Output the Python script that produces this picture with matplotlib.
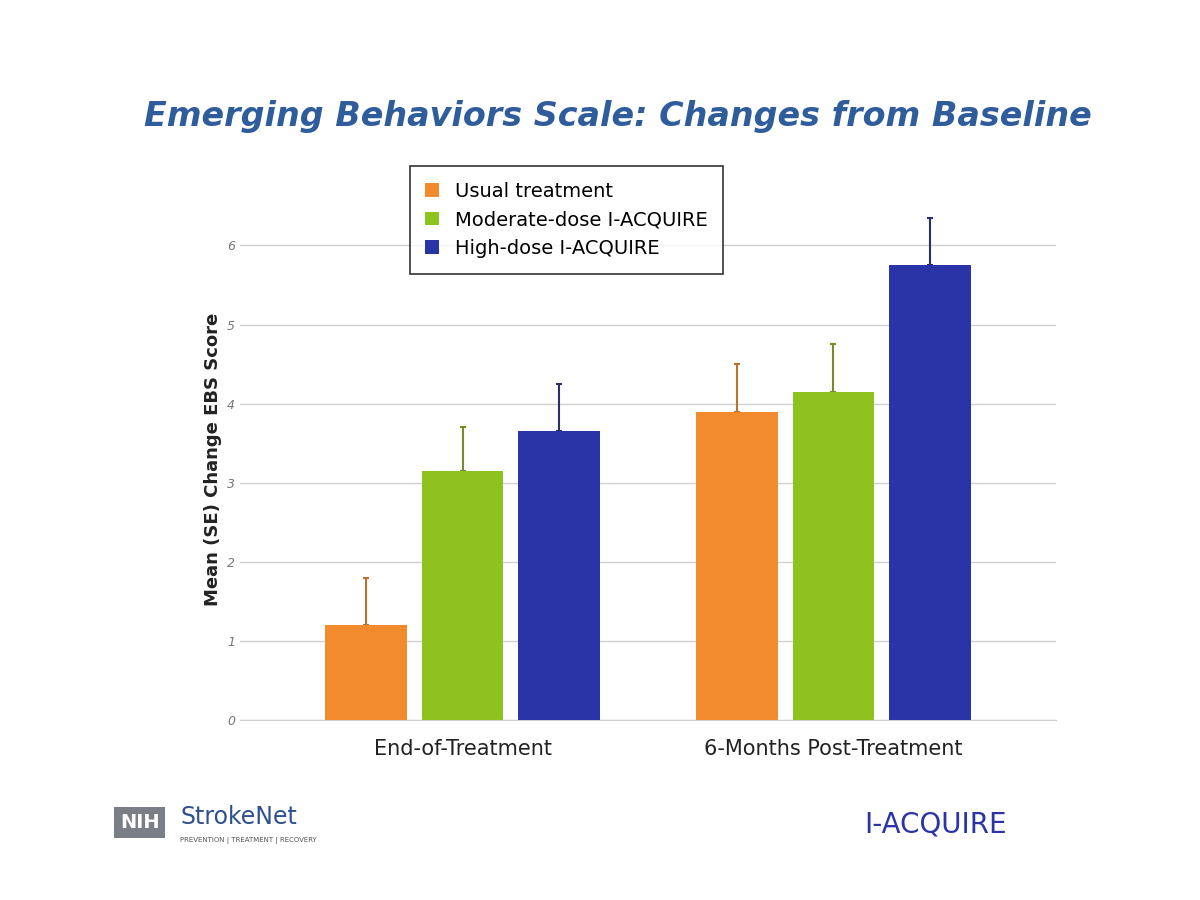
import matplotlib.pyplot as plt
import numpy as np

# Data
groups = ['End-of-Treatment', '6-Months Post-Treatment']
series = ['Usual treatment', 'Moderate-dose I-ACQUIRE', 'High-dose I-ACQUIRE']
usual = [1.2, 3.9]
moderate = [3.15, 4.15]
high = [3.65, 5.75]
usual_se = [0.6, 0.6]
moderate_se = [0.55, 0.6]
high_se = [0.6, 0.6]
colors = ['#F28A2E', '#8DC21F', '#2A34A6']
err_colors = ['#B8742E', '#7A8A2A', '#2A2F6A']

fig = plt.figure(figsize=(12, 9), dpi=100)
fig.patch.set_facecolor('white')
ax = fig.add_axes([0.2, 0.2, 0.68, 0.58])

x = np.arange(len(groups))
width = 0.22
values = [usual, moderate, high]
errors = [usual_se, moderate_se, high_se]
for i, (vals, errs) in enumerate(zip(values, errors)):
    pos = x + (i - 1) * (width + 0.04)
    ax.bar(pos, vals, width, color=colors[i], label=series[i], zorder=3)
    ax.errorbar(pos, vals, yerr=[np.zeros(len(errs)), errs], fmt='none',
                ecolor=err_colors[i], elinewidth=1.5, capsize=2, capthick=1.5, zorder=2)

ax.set_ylim(0, 6.6)
ax.set_yticks(range(0, 7))
ax.set_yticklabels([str(t) for t in range(0, 7)], fontsize=9, color='#777777', style='italic')
ax.yaxis.grid(True, color='#d0d0d0', linewidth=1, zorder=0)
ax.set_axisbelow(True)
ax.tick_params(axis='y', length=0)
ax.tick_params(axis='x', length=0, pad=14)
ax.set_xticks(x)
ax.set_xticklabels(groups, fontsize=15, color='#222222')
ax.set_xlim(-0.6, 1.6)
for s in ['top', 'right', 'left']:
    ax.spines[s].set_visible(False)
ax.spines['bottom'].set_color('#d0d0d0')
ax.set_ylabel('Mean (SE) Change EBS Score', fontsize=13, fontweight='bold', color='#222222')

leg = ax.legend(loc='upper center', bbox_to_anchor=(0.4, 1.08), frameon=True,
                fontsize=14, handlelength=0.7, handleheight=0.7, fancybox=False,
                borderpad=0.8)
leg.get_frame().set_edgecolor('black')
leg.get_frame().set_linewidth(1.2)

fig.text(0.12, 0.86, 'Emerging Behaviors Scale: Changes from Baseline', fontsize=24,
         fontweight='bold', style='italic', color='#2F5D9B')

# Logos as text
fig.text(0.1, 0.08, 'NIH', fontsize=14, color='white', fontweight='bold',
         bbox=dict(boxstyle='square,pad=0.3', fc='#7a7f87', ec='none'))
fig.text(0.15, 0.085, 'StrokeNet', fontsize=17, color='#2F4F8F')
fig.text(0.15, 0.065, 'PREVENTION | TREATMENT | RECOVERY', fontsize=5, color='#555555')
fig.text(0.72, 0.075, 'I-ACQUIRE', fontsize=20, color='#2A34A6')

fig.savefig('out.png', dpi=100, facecolor=fig.get_facecolor())
